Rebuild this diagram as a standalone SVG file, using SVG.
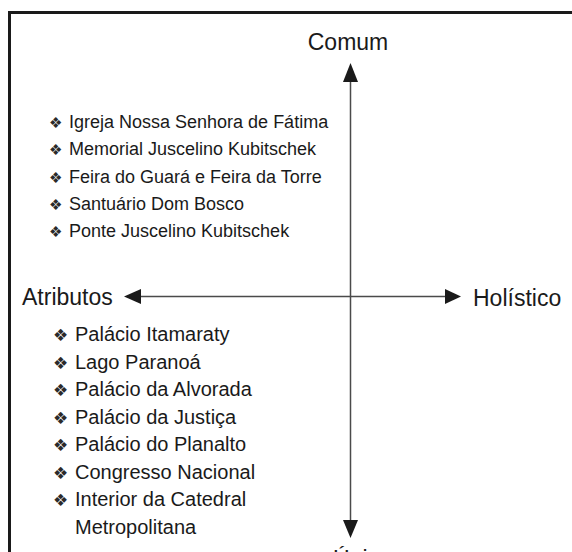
<svg xmlns="http://www.w3.org/2000/svg" width="572" height="552" viewBox="0 0 572 552">
<style>
text{font-family:"Liberation Sans","Arimo","DejaVu Sans",sans-serif;fill:#1a1a1a}
.ax{font-size:23px}
.up{font-size:18px}
.lo{font-size:20px}
.b{font-family:"DejaVu Sans",sans-serif;fill:#2a2a2a}
.up .b{font-size:15px}
.lo .b{font-size:17px}
.axis{stroke:#4a4a4a;stroke-width:1.5;fill:none}
.head{fill:#1a1a1a}
</style>
<rect width="572" height="552" fill="#fff"/>
<g id="frame"><path d="M9.5,552 V12.5 H572" fill="none" stroke="#1a1a1a" stroke-width="3"/></g>
<g id="connectors">
<line class="axis" x1="350.5" y1="80" x2="350.5" y2="522"/>
<polygon class="head" points="350.5,63 358,82 343,82"/>
<polygon class="head" points="350.5,538 358,520 343,520"/>
<line class="axis" x1="138" y1="296.5" x2="448" y2="296.5"/>
<polygon class="head" points="124,296.5 141,289 141,304"/>
<polygon class="head" points="461,296.5 445,289 445,304"/>
</g>
<g id="comum"><text class="ax" x="348" y="50" text-anchor="middle">Comum</text></g>
<g id="unico"><text class="ax" x="333" y="567">Único</text></g>
<g id="atributos"><text class="ax" x="22" y="305">Atributos</text></g>
<g id="holistico"><text class="ax" x="473" y="306">Holístico</text></g>
<g id="lista-comum" class="up">
<text y="128"><tspan class="b" x="49">❖</tspan><tspan x="69">Igreja Nossa Senhora de Fátima</tspan></text>
<text y="155.3"><tspan class="b" x="49">❖</tspan><tspan x="69">Memorial Juscelino Kubitschek</tspan></text>
<text y="182.6"><tspan class="b" x="49">❖</tspan><tspan x="69">Feira do Guará e Feira da Torre</tspan></text>
<text y="210"><tspan class="b" x="49">❖</tspan><tspan x="69">Santuário Dom Bosco</tspan></text>
<text y="237.3"><tspan class="b" x="49">❖</tspan><tspan x="69">Ponte Juscelino Kubitschek</tspan></text>
</g>
<g id="lista-atributos" class="lo">
<text y="341"><tspan class="b" x="53">❖</tspan><tspan x="75">Palácio Itamaraty</tspan></text>
<text y="368.5"><tspan class="b" x="53">❖</tspan><tspan x="75">Lago Paranoá</tspan></text>
<text y="396"><tspan class="b" x="53">❖</tspan><tspan x="75">Palácio da Alvorada</tspan></text>
<text y="423.5"><tspan class="b" x="53">❖</tspan><tspan x="75">Palácio da Justiça</tspan></text>
<text y="451"><tspan class="b" x="53">❖</tspan><tspan x="75">Palácio do Planalto</tspan></text>
<text y="478.5"><tspan class="b" x="53">❖</tspan><tspan x="75">Congresso Nacional</tspan></text>
<text y="506"><tspan class="b" x="53">❖</tspan><tspan x="75">Interior da Catedral</tspan></text>
<text y="533.5"><tspan x="75">Metropolitana</tspan></text>
</g>
</svg>
